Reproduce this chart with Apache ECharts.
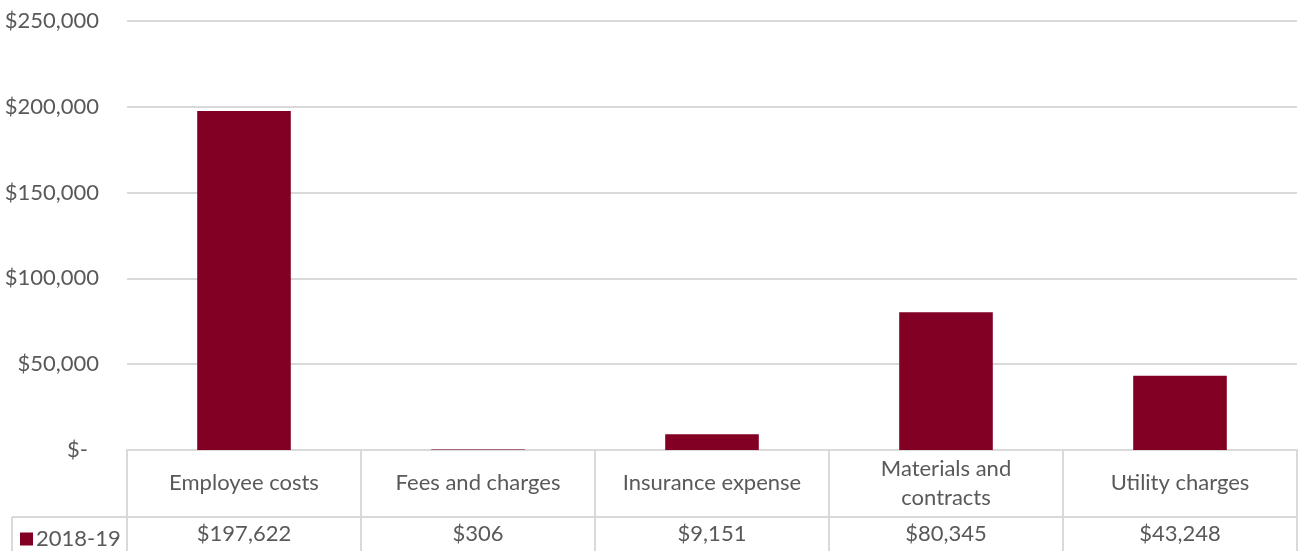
<!DOCTYPE html>
<html><head><meta charset="utf-8">
<script src="https://cdn.jsdelivr.net/npm/echarts@6/dist/echarts.min.js"></script>
<style>html,body{margin:0;padding:0;background:#fff}#c{width:1299px;height:551px}</style>
</head><body><div id="c"></div>
<script>
const categories = ['Employee costs', 'Fees and charges', 'Insurance expense', 'Materials and\ncontracts', 'Utility charges'];
const seriesName = '2018-19';
const values = [197622, 306, 9151, 80345, 43248];
const yTicks = [0, 50000, 100000, 150000, 200000, 250000];

const FONT = 'Lato';
const FS = 22;
const TXT = '#595959';
const LINE = '#d9d9d9';
const BAR = '#820024';
const money = v => v === 0 ? '$-' : '$' + v.toLocaleString('en-US');

const chart = echarts.init(document.getElementById('c'));
chart.setOption({
  animation: false,
  textStyle: { fontFamily: FONT },
  grid: { left: 127, right: 2, top: 21, bottom: 101, containLabel: false },
  legend: {
    left: 15, top: 523, icon: 'rect', itemWidth: 13, itemHeight: 13, itemGap: 6,
    textStyle: { fontFamily: FONT, fontSize: FS, color: TXT, padding: [0, 0, 0, -2] },
    data: [seriesName]
  },
  xAxis: [
    {
      type: 'category', data: categories, position: 'bottom',
      axisLine: { show: true, lineStyle: { color: LINE, width: 2 } },
      axisTick: { show: true, length: 67, lineStyle: { color: LINE, width: 2 } },
      axisLabel: { interval: 0, margin: 33, verticalAlign: 'middle', color: TXT, fontFamily: FONT, fontSize: FS, lineHeight: 29 },
      splitLine: { show: false }
    },
    {
      type: 'category', data: values.map(money), position: 'bottom', offset: 67,
      axisLine: { show: true, lineStyle: { color: LINE, width: 2 } },
      axisTick: { show: true, length: 36, lineStyle: { color: LINE, width: 2 } },
      axisLabel: { interval: 0, margin: 17, verticalAlign: 'middle', color: TXT, fontFamily: FONT, fontSize: FS },
      splitLine: { show: false }
    }
  ],
  yAxis: {
    type: 'value', min: yTicks[0], max: yTicks[yTicks.length - 1], interval: 50000,
    axisLine: { show: false }, axisTick: { show: false },
    axisLabel: {
      margin: 28, color: TXT, fontFamily: FONT, fontSize: FS,
      formatter: v => v === 0 ? '{z|$-}' : money(v),
      rich: { z: { color: TXT, fontFamily: FONT, fontSize: FS, padding: [0, 11, 0, 0] } }
    },
    splitLine: { lineStyle: { color: LINE, width: 2 } }
  },
  graphic: [
    { type: 'line', shape: { x1: 12, y1: 517, x2: 127, y2: 517 }, style: { stroke: LINE, lineWidth: 2 } },
    { type: 'line', shape: { x1: 12, y1: 517, x2: 12, y2: 551 }, style: { stroke: LINE, lineWidth: 2 } }
  ],
  series: [{
    name: seriesName, type: 'bar', data: values, barWidth: '40%', xAxisIndex: 0,
    itemStyle: { color: BAR }
  }]
});
</script></body></html>
